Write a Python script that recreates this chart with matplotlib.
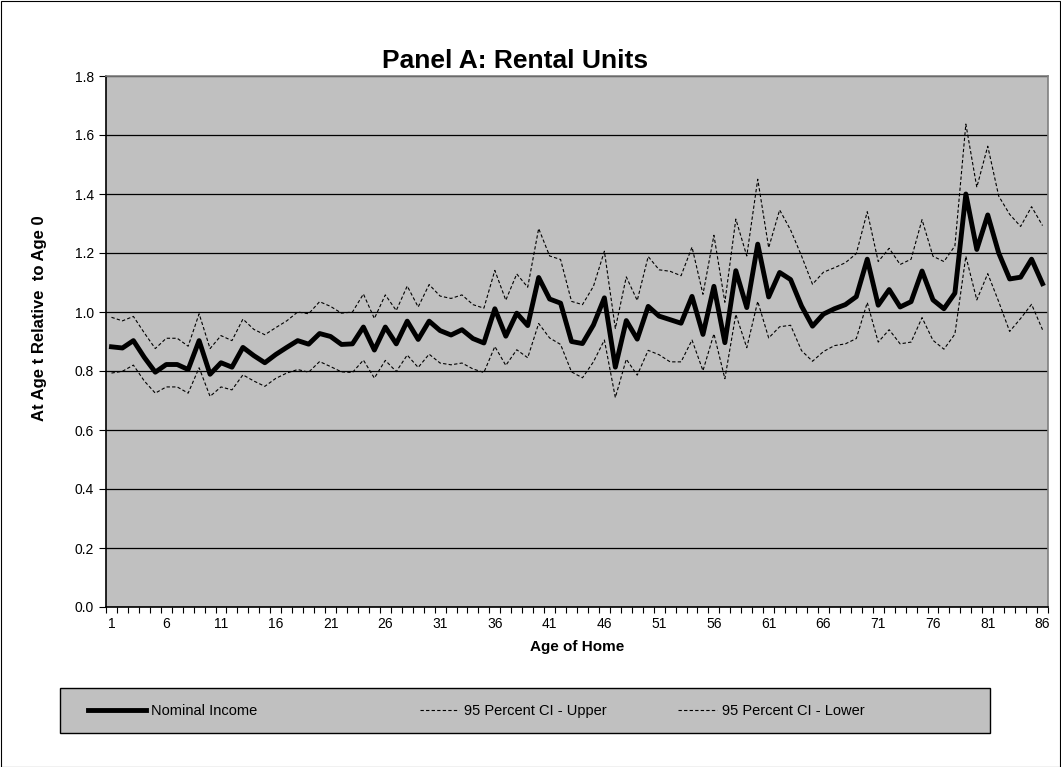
import numpy as np
import matplotlib.pyplot as plt
from matplotlib.patches import Rectangle

plt.rcParams['font.family'] = ['Liberation Sans', 'DejaVu Sans']

# age of home, 1..86
ages = list(range(1, 87))

nominal_income = [
    0.882, 0.878, 0.903, 0.846, 0.796, 0.822, 0.822, 0.805, 0.903, 0.789,
    0.828, 0.813, 0.880, 0.852, 0.828, 0.856, 0.880, 0.903, 0.891, 0.927,
    0.917, 0.890, 0.892, 0.949, 0.871, 0.949, 0.892, 0.969, 0.907, 0.969,
    0.937, 0.922, 0.940, 0.910, 0.895, 1.011, 0.918, 0.996, 0.954, 1.117,
    1.044, 1.030, 0.900, 0.893, 0.956, 1.048, 0.813, 0.971, 0.908, 1.019,
    0.986, 0.974, 0.962, 1.053, 0.924, 1.087, 0.896, 1.140, 1.015, 1.230,
    1.051, 1.134, 1.110, 1.020, 0.952, 0.993, 1.011, 1.025, 1.052, 1.179,
    1.023, 1.076, 1.017, 1.035, 1.139, 1.041, 1.011, 1.064, 1.400, 1.212,
    1.329, 1.200, 1.112, 1.118, 1.179, 1.096]

ci_upper = [
    0.982, 0.970, 0.985, 0.929, 0.876, 0.911, 0.911, 0.884, 0.994, 0.876,
    0.920, 0.903, 0.976, 0.941, 0.923, 0.947, 0.970, 1.000, 0.994, 1.035,
    1.019, 0.996, 1.000, 1.061, 0.978, 1.058, 1.005, 1.088, 1.017, 1.093,
    1.054, 1.046, 1.058, 1.025, 1.013, 1.141, 1.040, 1.129, 1.084, 1.283,
    1.190, 1.178, 1.036, 1.025, 1.087, 1.206, 0.944, 1.119, 1.039, 1.188,
    1.143, 1.138, 1.123, 1.220, 1.060, 1.260, 1.033, 1.315, 1.190, 1.450,
    1.218, 1.346, 1.278, 1.190, 1.094, 1.135, 1.150, 1.167, 1.198, 1.340,
    1.171, 1.216, 1.161, 1.179, 1.313, 1.189, 1.171, 1.224, 1.637, 1.423,
    1.562, 1.393, 1.331, 1.290, 1.357, 1.293]

ci_lower = [
    0.793, 0.799, 0.820, 0.766, 0.725, 0.746, 0.746, 0.725, 0.811, 0.714,
    0.746, 0.736, 0.787, 0.766, 0.748, 0.775, 0.793, 0.805, 0.796, 0.832,
    0.815, 0.797, 0.795, 0.837, 0.776, 0.836, 0.798, 0.854, 0.812, 0.857,
    0.827, 0.821, 0.827, 0.807, 0.795, 0.883, 0.819, 0.872, 0.845, 0.961,
    0.912, 0.890, 0.797, 0.777, 0.831, 0.905, 0.710, 0.840, 0.786, 0.870,
    0.855, 0.831, 0.831, 0.905, 0.801, 0.926, 0.774, 0.992, 0.879, 1.036,
    0.912, 0.950, 0.955, 0.869, 0.833, 0.866, 0.886, 0.892, 0.910, 1.032,
    0.898, 0.940, 0.892, 0.898, 0.981, 0.904, 0.874, 0.925, 1.189, 1.041,
    1.130, 1.035, 0.934, 0.978, 1.026, 0.940]

W, H = 1061, 767
fig = plt.figure(figsize=(W / 100, H / 100), dpi=100)
fig.patch.set_facecolor('white')
fig.patches.append(Rectangle((0.5 / W, 0.5 / H), 1 - 1.5 / W, 1 - 1.5 / H,
                             transform=fig.transFigure, fill=False,
                             edgecolor='black', linewidth=0.8))

# plot area in pixels: left 106, right 1048, top 76, bottom 607
ax = fig.add_axes([106 / W, 1 - 607 / H, (1048 - 106) / W, (607 - 76) / H])
ax.set_facecolor('#C0C0C0')

l_up, = ax.plot(ages, ci_upper, color='black', lw=0.8, dashes=(3, 2), zorder=3)
l_lo, = ax.plot(ages, ci_lower, color='black', lw=0.8, dashes=(3, 2), zorder=3)
l_nom, = ax.plot(ages, nominal_income, color='black', lw=3.5,
                 solid_joinstyle='round', zorder=4)

ax.set_xlim(0.5, 86.5)
ax.set_ylim(0, 1.8)
ax.set_yticks(np.arange(0, 1.81, 0.2))
ax.set_yticklabels([f'{v:.1f}' for v in np.arange(0, 1.81, 0.2)])
ax.yaxis.grid(True, color='black', lw=0.9)
ax.set_axisbelow(True)

ax.set_xticks(np.arange(0.5, 87, 1), minor=True)
ax.set_xticks(ages[::5])
ax.set_xticklabels([str(a) for a in ages[::5]])
ax.tick_params(axis='x', which='minor', direction='out', length=4, width=0.8)
ax.tick_params(axis='x', which='major', length=0, pad=7, labelsize=10)
ax.tick_params(axis='y', direction='out', length=5, width=0.8, labelsize=10)

for side in ['top', 'right']:
    ax.spines[side].set_color('#808080')
    ax.spines[side].set_linewidth(1.2)
for side in ['left', 'bottom']:
    ax.spines[side].set_color('black')
    ax.spines[side].set_linewidth(1.2)

ax.set_xlabel('Age of Home', fontsize=11, fontweight='bold', labelpad=7)
fig.text(40 / W, 1 - 318 / H, 'At Age t Relative  to Age 0', rotation=90,
         ha='center', va='center', fontsize=12, fontweight='bold')
fig.text(515 / W, 1 - 61 / H, 'Panel A: Rental Units', ha='center', va='center',
         fontsize=19, fontweight='bold')

# legend box spanning the lower part of the chart
fig.patches.append(Rectangle((60 / W, 1 - 733 / H), (990 - 60) / W, 45 / H,
                             transform=fig.transFigure, facecolor='#C0C0C0',
                             edgecolor='black', linewidth=1.0))
entries = [(l_nom, 'Nominal Income', 88, 4.0),
           (l_up, '95 Percent CI - Upper', 420, 2.7),
           (l_lo, '95 Percent CI - Lower', 678, 2.7)]
for handle, text, x0, hl in entries:
    lg = fig.legend([handle], [text], loc='center left',
                    bbox_to_anchor=(x0 / W, 1 - 711 / H), fontsize=10.5,
                    frameon=False, handlelength=hl, handletextpad=0.3,
                    borderpad=0, borderaxespad=0)
    lg.set_zorder(5)

fig.savefig('out.png', dpi=100)
